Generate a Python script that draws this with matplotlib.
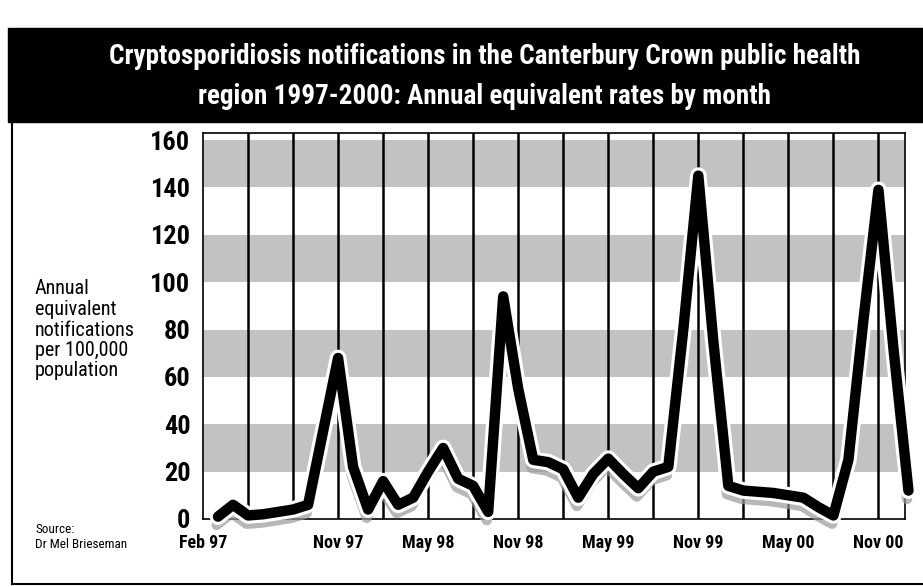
import matplotlib
matplotlib.use("Agg")
import matplotlib.pyplot as plt
import matplotlib.patheffects as pe
from matplotlib.patches import Rectangle
from matplotlib.lines import Line2D

# month index, Jan 97 = 0
months = list(range(2, 49))
rates = [1, 6, 1.5, 2, 3, 4, 6, 37, 68, 22,
         4, 16, 6, 9, 20, 30, 17, 14, 3, 94,
         55, 25, 24, 21, 9, 19, 25.5, 19, 13, 20,
         22, 80, 145, 75, 14, 12, 11.5, 11, 10, 9,
         5, 1.5, 25, 84, 139, 72, 12]

tick_months = [1, 10, 16, 22, 28, 34, 40, 46]
tick_labels = ["Feb 97", "Nov 97", "May 98", "Nov 98", "May 99", "Nov 99", "May 00", "Nov 00"]
grid_months = list(range(4, 47, 3))
yticks = [0, 20, 40, 60, 80, 100, 120, 140, 160]
bands = [(20, 40), (60, 80), (100, 120), (140, 160)]

narrow = ["Liberation Sans Narrow", "Roboto Condensed", "Liberation Sans", "DejaVu Sans"]

fig = plt.figure(figsize=(9.23, 5.87), dpi=100)
ax = fig.add_axes([203/923, 1-519/587, (905-203)/923, (519-133)/587])

for lo, hi in bands:
    ax.axhspan(lo, hi, color="#c2c2c2", lw=0, zorder=0)
for m in grid_months:
    ax.axvline(m, color="black", lw=1.8, zorder=1)

ax.plot(months, rates, color="black", lw=7.5, solid_capstyle="round", solid_joinstyle="round",
        clip_on=False, zorder=3,
        path_effects=[pe.SimpleLineShadow(offset=(-1, -6), shadow_color="0.6", alpha=0.7),
                      pe.Stroke(linewidth=12, foreground="white"),
                      pe.Normal()])

ax.set_xlim(1.5, 47.77)
ax.set_ylim(0, 163)
ax.set_yticks(yticks)
ax.set_yticklabels([str(v) for v in yticks], fontsize=19, fontweight="bold", family=narrow)
ax.set_xticks(tick_months)
ax.set_xticklabels(tick_labels, fontsize=13, fontweight="bold", family=narrow)
ax.tick_params(length=0, pad=9)
ax.tick_params(axis="x", pad=11)
for s in ax.spines.values():
    s.set_linewidth(1.2)

fig.text(35/923, 1-330/587, "Annual\nequivalent\nnotifications\nper 100,000\npopulation",
         fontsize=14.5, family=narrow, ha="left", va="center", linespacing=1.1)
fig.text(35/923, 1-537/587, "Source:\nDr Mel Brieseman", fontsize=9.5, family=narrow,
         ha="left", va="center", linespacing=1.15)

fig.patches.append(Rectangle((8/923, 1-122/587), 1, 94/587, transform=fig.transFigure,
                             color="black", zorder=0))
fig.text(0.525, 1-57/587, "Cryptosporidiosis notifications in the Canterbury Crown public health",
         color="white", fontsize=19.5, fontweight="bold", family=narrow, ha="center", va="center")
fig.text(0.525, 1-96/587, "region 1997-2000: Annual equivalent rates by month",
         color="white", fontsize=19.5, fontweight="bold", family=narrow, ha="center", va="center")

fig.lines.append(Line2D([12/923, 12/923], [0.005, 1-122/587], transform=fig.transFigure,
                        color="black", lw=1.5))
fig.lines.append(Line2D([12/923, 1], [0.005, 0.005], transform=fig.transFigure,
                        color="black", lw=1.5))

fig.savefig("out.png", dpi=100)
